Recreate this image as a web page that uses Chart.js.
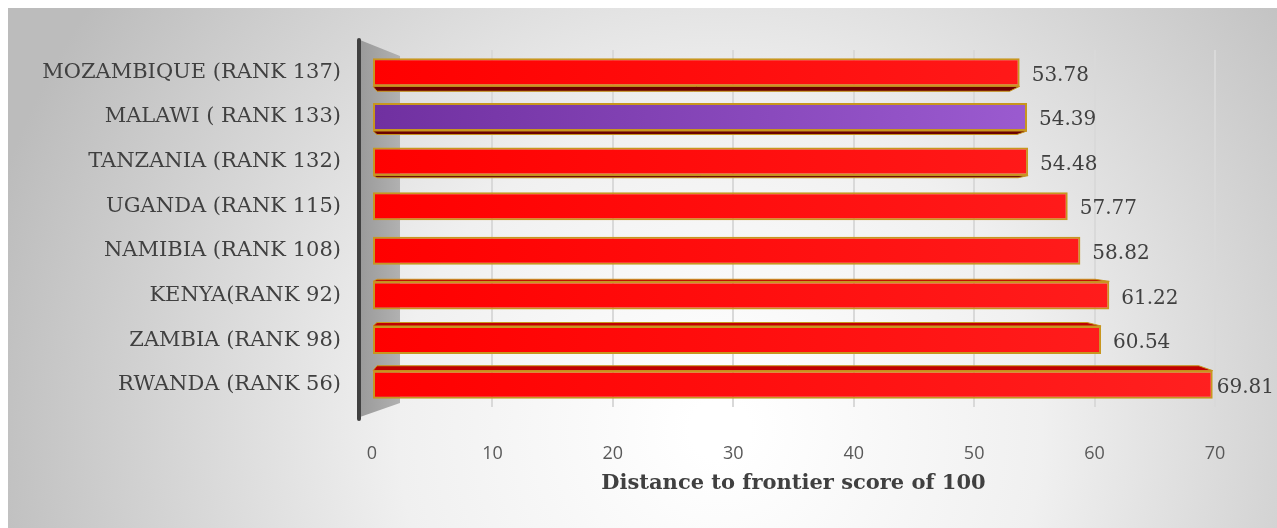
<!DOCTYPE html>
<html>
<head>
<meta charset="utf-8">
<script src="https://cdn.jsdelivr.net/npm/chart.js@4/dist/chart.umd.min.js"></script>
<style>
  html, body { margin: 0; padding: 0; background: #fff; }
  #wrap { width: 1277px; height: 528px; }
</style>
</head>
<body>
<div id="wrap"><canvas id="myChart" width="1277" height="528"></canvas></div>
<script>
// Dữ liệu
const countries = [
    "MOZAMBIQUE (RANK 137)",
    "MALAWI ( RANK 133)",
    "TANZANIA (RANK 132)",
    "UGANDA (RANK 115)",
    "NAMIBIA (RANK 108)",
    "KENYA(RANK 92)",
    "ZAMBIA (RANK 98)",
    "RWANDA (RANK 56)"
];
const scores = [53.78, 54.39, 54.48, 57.77, 58.82, 61.22, 60.54, 69.81];
const highlight = "MALAWI ( RANK 133)";
const xTicks = [0, 10, 20, 30, 40, 50, 60, 70];
const axisTitle = "Distance to frontier score of 100";

const serif = "'DejaVu Serif', 'Liberation Serif', serif";

// Nền gradient xám
const backgroundPlugin = {
    id: "bg",
    beforeDraw(chart) {
        const ctx = chart.ctx;
        ctx.save();
        ctx.fillStyle = "#ffffff";
        ctx.fillRect(0, 0, chart.width, chart.height);
        const g = ctx.createRadialGradient(720, 430, 30, 720, 430, 760);
        g.addColorStop(0, "#ffffff");
        g.addColorStop(0.4, "#f0f0f0");
        g.addColorStop(1, "#bcbcbc");
        ctx.fillStyle = g;
        ctx.fillRect(8, 8, chart.width - 8, chart.height - 8);
        ctx.restore();
    },
    beforeDatasetsDraw(chart) {
        // Tường bên trái (hiệu ứng 3D)
        const ctx = chart.ctx;
        const area = chart.chartArea;
        const x0 = chart.scales.x.getPixelForValue(0);
        ctx.save();
        const wg = ctx.createLinearGradient(x0 - 12, 0, x0 + 30, 0);
        wg.addColorStop(0, "#9a9a9a");
        wg.addColorStop(1, "#b2b2b2");
        ctx.fillStyle = wg;
        ctx.beginPath();
        ctx.moveTo(x0 - 12, area.top - 10);
        ctx.lineTo(x0 + 28, area.top + 6);
        ctx.lineTo(x0 + 28, area.bottom - 4);
        ctx.lineTo(x0 - 12, area.bottom + 10);
        ctx.closePath();
        ctx.fill();
        ctx.strokeStyle = "#404040";
        ctx.lineWidth = 4;
        ctx.lineCap = "round";
        ctx.beginPath();
        ctx.moveTo(x0 - 13, area.top - 10);
        ctx.lineTo(x0 - 13, area.bottom + 12);
        ctx.stroke();
        ctx.restore();
    }
};

// Mặt 3D của thanh + nhãn giá trị
const barFaces = {
    id: "barFaces",
    afterDatasetsDraw(chart) {
        const ctx = chart.ctx;
        const meta = chart.getDatasetMeta(0);
        const n = meta.data.length;
        ctx.save();
        meta.data.forEach((bar, i) => {
            const d = (i - (n - 1) / 2) * 1.4;
            if (Math.abs(d) < 1) return;
            const h = bar.height / 2;
            const left = bar.base;
            const right = bar.x;
            ctx.beginPath();
            if (d < 0) {
                const y = bar.y + h;
                ctx.moveTo(left, y);
                ctx.lineTo(right, y);
                ctx.lineTo(right - 10, y - d);
                ctx.lineTo(left + 4, y - d);
                ctx.fillStyle = "#6a0000";
            } else {
                const y = bar.y - h;
                ctx.moveTo(left, y);
                ctx.lineTo(right, y);
                ctx.lineTo(right - 14, y - d);
                ctx.lineTo(left + 4, y - d);
                ctx.fillStyle = "#c00000";
            }
            ctx.closePath();
            ctx.fill();
            ctx.strokeStyle = "#c8961e";
            ctx.lineWidth = 1;
            ctx.stroke();
        });

        ctx.font = "20px " + serif;
        ctx.fillStyle = "#404040";
        ctx.textBaseline = "middle";
        meta.data.forEach((bar, i) => {
            const txt = scores[i].toFixed(2);
            const w = ctx.measureText(txt).width;
            const x = Math.min(bar.x + 12, chart.width - w - 3);
            ctx.fillText(txt, x, bar.y + 3);
        });
        ctx.restore();
    }
};

const ctx = document.getElementById("myChart").getContext("2d");

new Chart(ctx, {
    type: "bar",
    data: {
        labels: countries,
        datasets: [{
            data: scores,
            backgroundColor: c => {
                const area = c.chart.chartArea;
                if (!area) return "#ff0000";
                if (countries[c.dataIndex] === highlight) {
                    const g = c.chart.ctx.createLinearGradient(area.left, 0, area.right * 0.85, 0);
                    g.addColorStop(0, "#7030a0");
                    g.addColorStop(1, "#9b5bd0");
                    return g;
                }
                const g = c.chart.ctx.createLinearGradient(area.left, 0, area.right, 0);
                g.addColorStop(0, "#ff0000");
                g.addColorStop(1, "#ff2020");
                return g;
            },
            borderColor: "#c8961e",
            borderWidth: 2,
            borderSkipped: false,
            barPercentage: 0.9,
            categoryPercentage: 0.7
        }]
    },
    options: {
        indexAxis: "y",
        responsive: false,
        animation: false,
        layout: { padding: { top: 50, right: 62, bottom: 30, left: 0 } },
        plugins: {
            legend: { display: false },
            tooltip: { enabled: false }
        },
        scales: {
            x: {
                min: 0,
                max: 70,
                afterBuildTicks: s => { s.ticks = xTicks.map(v => ({ value: v })); },
                afterFit: s => { s.height = 91; },
                ticks: {
                    font: { family: "'Open Sans', 'Liberation Sans', sans-serif", size: 18 },
                    color: "#595959",
                    padding: 36
                },
                grid: { color: "#d9d9d9", lineWidth: 2, drawTicks: false },
                border: { display: false },
                title: {
                    display: true,
                    text: axisTitle,
                    font: { family: serif, size: 21, weight: "bold" },
                    color: "#404040",
                    padding: { top: 0, bottom: 2 }
                }
            },
            y: {
                afterFit: s => { s.width = 372; },
                ticks: {
                    font: { family: serif, size: 21 },
                    color: "#404040",
                    padding: 23
                },
                grid: { display: false },
                border: { display: false }
            }
        }
    },
    plugins: [backgroundPlugin, barFaces]
});
</script>
</body>
</html>
